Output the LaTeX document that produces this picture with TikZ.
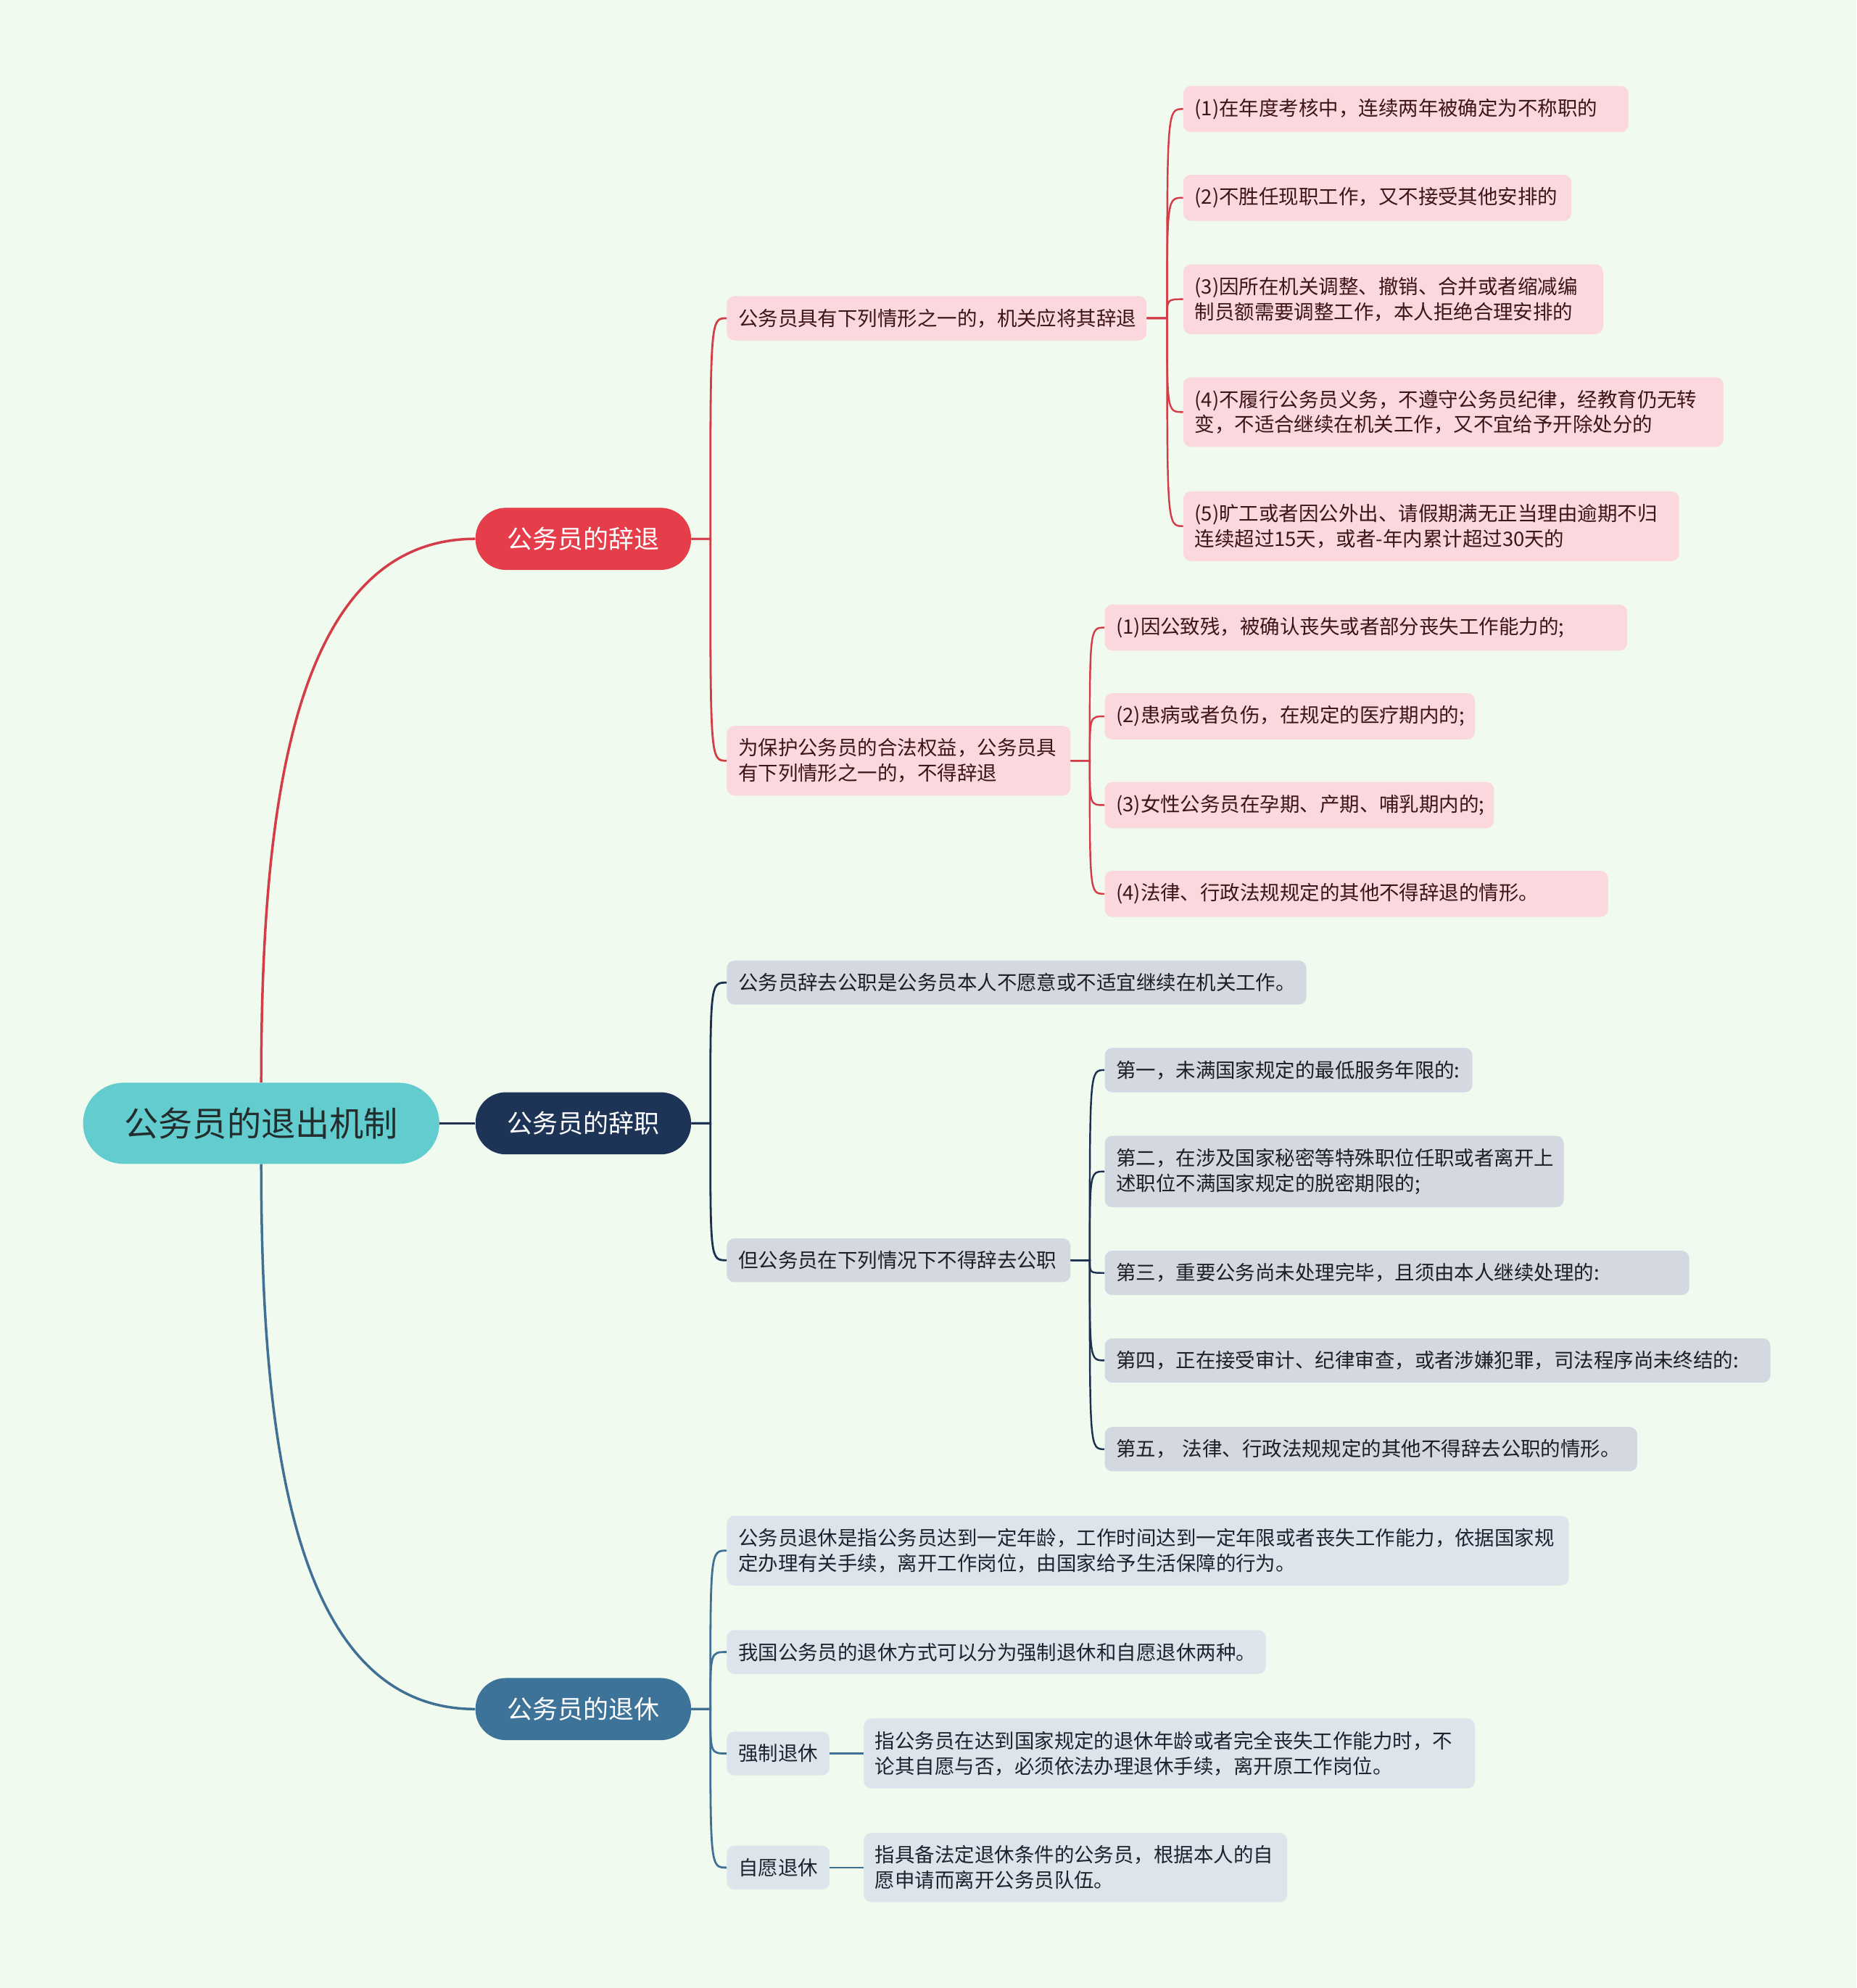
\documentclass[tikz,border=0pt]{standalone}
\usepackage{fontspec}
\setmainfont{Noto Sans CJK SC}

\definecolor{bgcol}{RGB}{241,250,239}
\definecolor{rootcol}{RGB}{99,204,206}
\definecolor{roottext}{RGB}{35,45,45}
\definecolor{redmain}{RGB}{229,61,74}
\definecolor{navymain}{RGB}{29,52,87}
\definecolor{bluemain}{RGB}{61,115,152}
\definecolor{redfill}{RGB}{250,216,222}
\definecolor{redtext}{RGB}{60,20,25}
\definecolor{navyfill}{RGB}{212,216,224}
\definecolor{navytext}{RGB}{28,30,40}
\definecolor{bluefill}{RGB}{220,228,236}
\definecolor{bluetext}{RGB}{28,35,45}
\definecolor{redcol}{RGB}{212,60,72}
\definecolor{navycol}{RGB}{28,48,80}
\definecolor{bluecol}{RGB}{64,112,148}

\begin{document}
\begin{tikzpicture}[x=1pt,y=-1pt,
  rootnode/.style={fill=rootcol,text=roottext,rounded corners=32pt,minimum width=281pt,minimum height=64pt,font=\fontsize{27}{30}\selectfont},
  mainnode/.style={text=white,rounded corners=24pt,minimum width=170pt,minimum height=49pt,font=\fontsize{20}{24}\selectfont},
  itembox/.style={anchor=west,rounded corners=6pt,inner xsep=9pt,inner ysep=10pt,align=left,font=\fontsize{15.7}{20}\selectfont},
  redbox/.style={itembox,fill=redfill,text=redtext},
  navybox/.style={itembox,fill=navyfill,text=navytext},
  bluebox/.style={itembox,fill=bluefill,text=bluetext},
  redline/.style={draw=redcol,line width=1.6pt},
  navyline/.style={draw=navycol,line width=1.6pt},
  blueline/.style={draw=bluecol,line width=1.6pt}]

\fill[bgcol] (0,0) rectangle (1464,1568);
\useasboundingbox (0,0) rectangle (1464,1568);

\node[rootnode] (root) at (206,886) {公务员的退出机制};

\node[mainnode,fill=redmain] (citui) at (460,425) {公务员的辞退};
\node[mainnode,fill=navymain] (cizhi) at (460,886) {公务员的辞职};
\node[mainnode,fill=bluemain] (tuixiu) at (460,1348) {公务员的退休};

% 辞退
\node[redbox,text width=313pt] (ta) at (573,251) {公务员具有下列情形之一的，机关应将其辞退};
\node[redbox,text width=333pt] (ta1) at (933,86) {(1)在年度考核中，连续两年被确定为不称职的};
\node[redbox,text width=288pt] (ta2) at (933,156) {(2)不胜任现职工作，又不接受其他安排的};
\node[redbox,text width=313pt] (ta3) at (933,236) {(3)因所在机关调整、撤销、合并或者缩减编\\制员额需要调整工作，本人拒绝合理安排的};
\node[redbox,text width=408pt] (ta4) at (933,325) {(4)不履行公务员义务，不遵守公务员纪律，经教育仍无转\\变，不适合继续在机关工作，又不宜给予开除处分的};
\node[redbox,text width=373pt] (ta5) at (933,415) {(5)旷工或者因公外出、请假期满无正当理由逾期不归\\连续超过15天，或者-年内累计超过30天的};

\node[redbox,text width=253pt] (tb) at (573,600) {为保护公务员的合法权益，公务员具\\有下列情形之一的，不得辞退};
\node[redbox,text width=394pt] (tb1) at (871,495) {(1)因公致残，被确认丧失或者部分丧失工作能力的;};
\node[redbox,text width=274pt] (tb2) at (871,565) {(2)患病或者负伤，在规定的医疗期内的;};
\node[redbox,text width=289pt] (tb3) at (871,635) {(3)女性公务员在孕期、产期、哺乳期内的;};
\node[redbox,text width=379pt] (tb4) at (871,705) {(4)法律、行政法规规定的其他不得辞退的情形。};

% 辞职
\node[navybox,text width=439pt] (za) at (573,775) {公务员辞去公职是公务员本人不愿意或不适宜继续在机关工作。};
\node[navybox,text width=253pt] (zb) at (573,994) {但公务员在下列情况下不得辞去公职};
\node[navybox,text width=272pt] (zb1) at (871,844) {第一，未满国家规定的最低服务年限的:};
\node[navybox,text width=344pt] (zb2) at (871,924) {第二，在涉及国家秘密等特殊职位任职或者离开上\\述职位不满国家规定的脱密期限的;};
\node[navybox,text width=443pt] (zb3) at (871,1004) {第三，重要公务尚未处理完毕，且须由本人继续处理的:};
\node[navybox,text width=507pt] (zb4) at (871,1073) {第四，正在接受审计、纪律审查，或者涉嫌犯罪，司法程序尚未终结的:};
\node[navybox,text width=402pt] (zb5) at (871,1143) {第五， 法律、行政法规规定的其他不得辞去公职的情形。};

% 退休
\node[bluebox,text width=646pt] (xa) at (573,1223) {公务员退休是指公务员达到一定年龄，工作时间达到一定年限或者丧失工作能力，依据国家规\\定办理有关手续，离开工作岗位，由国家给予生活保障的行为。};
\node[bluebox,text width=407pt] (xb) at (573,1303) {我国公务员的退休方式可以分为强制退休和自愿退休两种。};
\node[bluebox,text width=63pt] (xc) at (573,1383) {强制退休};
\node[bluebox,text width=464pt] (xc1) at (681,1383) {指公务员在达到国家规定的退休年龄或者完全丧失工作能力时，不\\论其自愿与否，必须依法办理退休手续，离开原工作岗位。};
\node[bluebox,text width=63pt] (xd) at (573,1473) {自愿退休};
\node[bluebox,text width=316pt] (xd1) at (681,1473) {指具备法定退休条件的公务员，根据本人的自\\愿申请而离开公务员队伍。};

% root branches
\draw[redcol,line width=2pt] (root.north) .. controls +(0,-214) and +(-145,0) .. (citui.west);
\draw[navycol,line width=2pt] (root.east) -- (cizhi.west);
\draw[bluecol,line width=2pt] (root.south) .. controls +(0,214) and +(-145,0) .. (tuixiu.west);

% sub branches
\foreach \n in {ta,tb}
  \draw[redline] (citui.east) -- ++(15,0) coordinate (j) .. controls (j |- \n.west) and (j |- \n.west) .. (\n.west);
\foreach \n in {ta1,ta2,ta3,ta4,ta5}
  \draw[redline,line width=1.4pt] (ta.east) -- ++(16,0) coordinate (j) .. controls (j |- \n.west) and (j |- \n.west) .. (\n.west);
\foreach \n in {tb1,tb2,tb3,tb4}
  \draw[redline,line width=1.4pt] (tb.east) -- ++(15,0) coordinate (j) .. controls (j |- \n.west) and (j |- \n.west) .. (\n.west);

\foreach \n in {za,zb}
  \draw[navyline] (cizhi.east) -- ++(15,0) coordinate (j) .. controls (j |- \n.west) and (j |- \n.west) .. (\n.west);
\foreach \n in {zb1,zb2,zb3,zb4,zb5}
  \draw[navyline,line width=1.4pt] (zb.east) -- ++(15,0) coordinate (j) .. controls (j |- \n.west) and (j |- \n.west) .. (\n.west);

\foreach \n in {xa,xb,xc,xd}
  \draw[blueline] (tuixiu.east) -- ++(15,0) coordinate (j) .. controls (j |- \n.west) and (j |- \n.west) .. (\n.west);
\draw[blueline,line width=1.4pt] (xc.east) -- (xc1.west);
\draw[blueline,line width=1.4pt] (xd.east) -- (xd1.west);

\end{tikzpicture}
\end{document}
